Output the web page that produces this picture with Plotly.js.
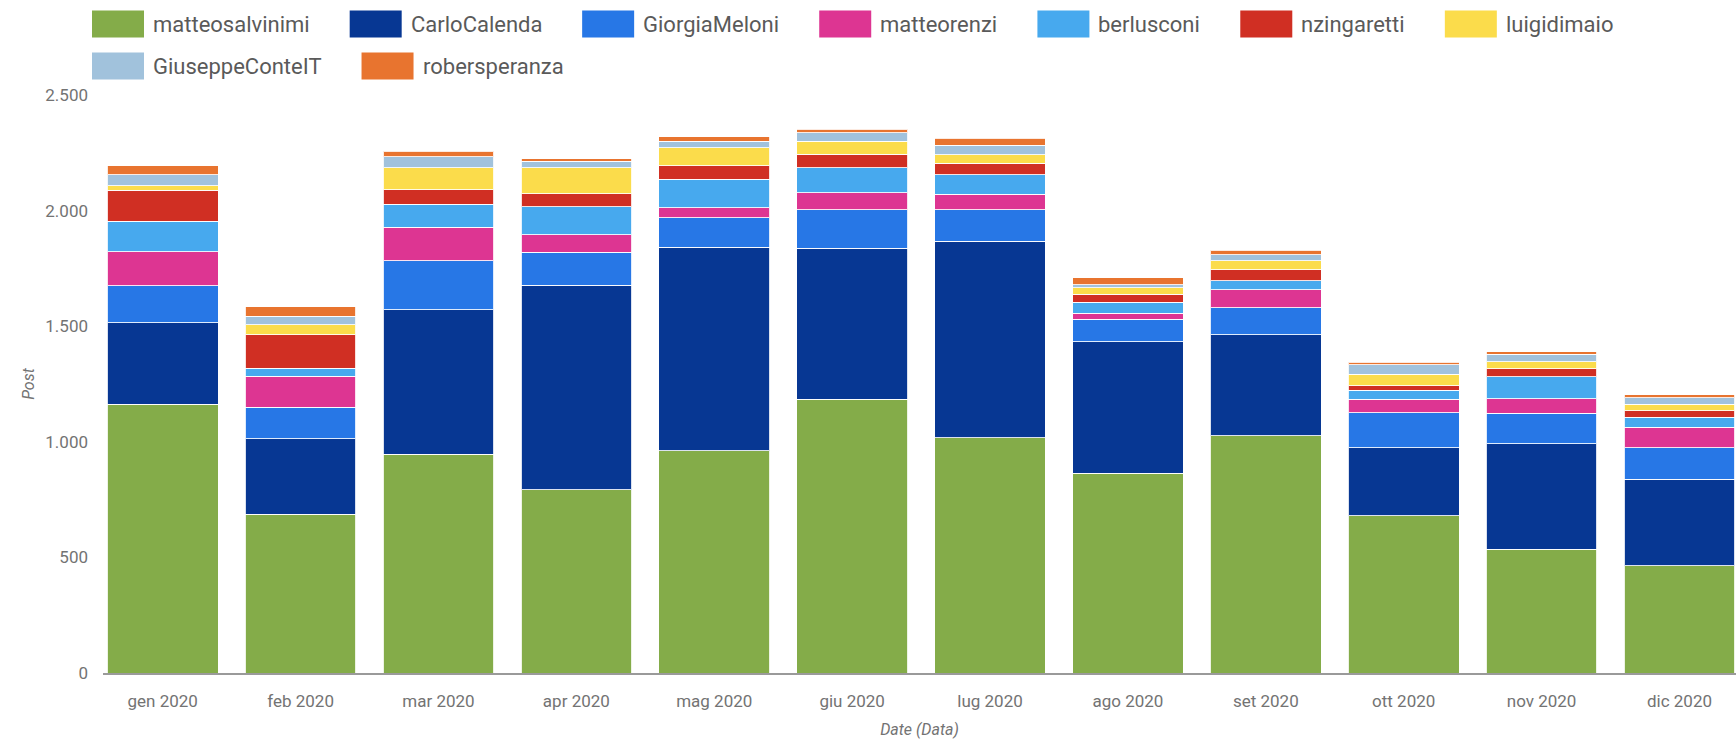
<!DOCTYPE html>
<html>
<head>
<meta charset="utf-8">
<script src="https://cdn.plot.ly/plotly-3.0.1.min.js"></script>
<style>html,body{margin:0;padding:0;background:#fff;}#chart{width:1736px;height:739px;}</style>
</head>
<body>
<div id="chart"></div>
<script>
// ---- Data ----
var months = ['gen 2020','feb 2020','mar 2020','apr 2020','mag 2020','giu 2020','lug 2020','ago 2020','set 2020','ott 2020','nov 2020','dic 2020'];
var matteosalvinimi = [1162, 686, 946, 793, 961, 1184, 1018, 865, 1026, 680, 536, 464];
var CarloCalenda    = [352, 327, 626, 884, 880, 654, 850, 568, 438, 295, 455, 374];
var GiorgiaMeloni   = [161, 136, 211, 142, 128, 166, 136, 98, 116, 151, 132, 137];
var matteorenzi     = [148, 134, 144, 77, 43, 73, 66, 26, 77, 58, 63, 88];
var berlusconi      = [131, 35, 100, 121, 124, 108, 86, 47, 40, 38, 95, 43];
var nzingaretti     = [134, 146, 63, 55, 57, 58, 48, 34, 48, 21, 36, 29];
var luigidimaio     = [19, 42, 95, 114, 78, 58, 37, 29, 38, 50, 29, 27];
var GiuseppeConteIT = [49, 38, 49, 27, 28, 35, 42, 13, 25, 40, 32, 29];
var robersperanza   = [37, 40, 22, 11, 20, 15, 31, 30, 20, 11, 11, 13];

var seriesNames = ['matteosalvinimi','CarloCalenda','GiorgiaMeloni','matteorenzi','berlusconi','nzingaretti','luigidimaio','GiuseppeConteIT','robersperanza'];
var seriesValues = [matteosalvinimi, CarloCalenda, GiorgiaMeloni, matteorenzi, berlusconi, nzingaretti, luigidimaio, GiuseppeConteIT, robersperanza];
var seriesColors = ['#84ac49','#073793','#2777e6','#dd3592','#47a9ee','#d02f23','#fbdc4b','#a1c2dc','#e8742f'];

// ---- Geometry ----
var W = 1736, H = 739;
var mL = 103, mR = 0, mT = 95, mB = 66;
var plotW = W - mL - mR, plotH = H - mT - mB;

var FONT = 'Roboto, "Noto Sans", sans-serif';
var tickColor = '#737373';
var legendColor = '#5a5a5a';

var traces = seriesNames.map(function(name, i){
  return {
    type: 'bar',
    name: name,
    x: months,
    y: seriesValues[i],
    marker: {color: seriesColors[i], line: {color: 'rgba(255,255,255,0.85)', width: 1}},
    showlegend: false,
    hoverinfo: 'x+y+name'
  };
});

// ---- Custom legend (large swatches, wrapped rows) ----
var legFontSize = 22;
var canvas = document.createElement('canvas');
var ctx = canvas.getContext('2d');
ctx.font = legFontSize + 'px Roboto';
var swW = 52, swH = 27, txtGap = 9, itemGap = 40;
var rowY = [24, 66];
var startX = 92;
var shapes = [], annotations = [];
var cx = startX, row = 0;
function px2x(p){ return (p - mL) / plotW; }
function py2y(p){ return (H - mB - p) / plotH; }
seriesNames.forEach(function(name, i){
  var tw = ctx.measureText(name).width;
  var itemW = swW + txtGap + tw;
  if (cx + itemW > W - 20 && cx > startX) { row++; cx = startX; }
  var yc = rowY[row] !== undefined ? rowY[row] : rowY[0] + row * 42;
  shapes.push({
    type: 'rect', xref: 'paper', yref: 'paper',
    x0: px2x(cx), x1: px2x(cx + swW),
    y0: py2y(yc + swH/2), y1: py2y(yc - swH/2),
    fillcolor: seriesColors[i], line: {width: 0}, layer: 'above'
  });
  annotations.push({
    xref: 'paper', yref: 'paper',
    x: px2x(cx + swW + txtGap - 2), y: py2y(yc),
    xanchor: 'left', yanchor: 'middle',
    text: name, showarrow: false,
    font: {family: FONT, size: legFontSize, color: legendColor}
  });
  cx += itemW + itemGap;
});

var layout = {
  width: W, height: H,
  margin: {l: mL, r: mR, t: mT, b: mB, pad: 0},
  paper_bgcolor: '#ffffff', plot_bgcolor: '#ffffff',
  barmode: 'stack',
  bargap: 0.197,
  separators: ',.',
  font: {family: FONT, color: tickColor},
  showlegend: false,
  xaxis: {
    type: 'category',
    range: [-0.433, 11.41],
    showgrid: false, zeroline: false,
    showline: true, linecolor: '#9a9a9a', linewidth: 2,
    ticks: '', ticklabelstandoff: 12,
    tickfont: {family: FONT, size: 17, color: tickColor},
    automargin: false,
    title: {text: 'Date (Data)', standoff: 14, font: {family: FONT, size: 16, color: tickColor, style: 'italic'}}
  },
  yaxis: {
    range: [0, 2500],
    tickvals: [0, 500, 1000, 1500, 2000, 2500],
    tickformat: ',',
    showgrid: false, zeroline: false, showline: false,
    ticks: '', ticklabelstandoff: 14,
    tickfont: {family: FONT, size: 17, color: tickColor},
    automargin: false,
    title: {text: 'Post', standoff: 6, font: {family: FONT, size: 16, color: tickColor, style: 'italic'}}
  },
  shapes: shapes,
  annotations: annotations
};

Plotly.newPlot('chart', traces, layout, {displayModeBar: false, staticPlot: true});
</script>
</body>
</html>
